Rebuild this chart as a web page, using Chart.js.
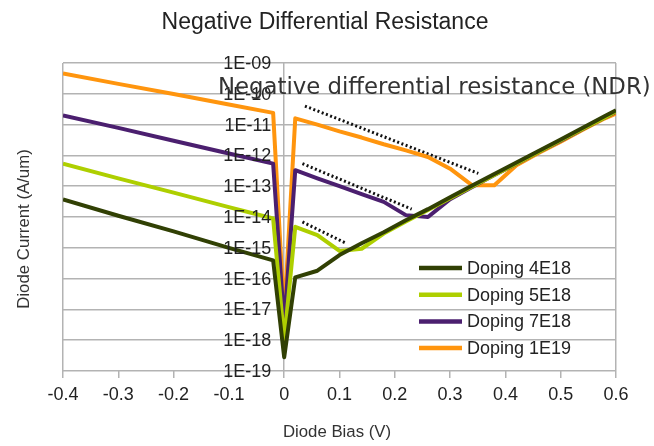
<!DOCTYPE html>
<html>
<head>
<meta charset="utf-8">
<script src="https://cdn.jsdelivr.net/npm/chart.js@4.4.1/dist/chart.umd.min.js"></script>
<style>
  body { margin: 0; background: #fff; }
</style>
</head>
<body>
<canvas id="myChart" width="654" height="446"></canvas>
<script>
// diode bias (V)
const bias = [-0.4, -0.3, -0.2, -0.1, -0.02, 0, 0.02, 0.06, 0.10, 0.14, 0.18, 0.22, 0.26, 0.30, 0.34, 0.38, 0.42, 0.46, 0.50, 0.54, 0.58, 0.60];

// diode current (A/um)
const doping4E18 = [3.7e-14, 1.1e-14, 3.4e-15, 1.0e-15, 3.9e-16, 2.8e-19, 1.1e-16, 1.8e-16, 5.8e-16, 1.4e-15, 3.2e-15, 7.8e-15, 1.8e-14, 4.4e-14, 1.05e-13, 2.5e-13, 5.9e-13, 1.4e-12, 3.3e-12, 7.9e-12, 1.9e-11, 2.9e-11];
const doping5E18 = [5.4e-13, 1.8e-13, 6.2e-14, 2.1e-14, 8.9e-15, 1.0e-18, 4.8e-15, 2.6e-15, 7.9e-16, 9.3e-16, 2.9e-15, 7.2e-15, 1.7e-14, 4.1e-14, 9.8e-14, 2.3e-13, 5.5e-13, 1.3e-12, 3.1e-12, 7.4e-12, 1.7e-11, 2.7e-11];
const doping7E18 = [2.0e-11, 7.8e-12, 3.0e-12, 1.15e-12, 5.4e-13, 3.2e-18, 3.3e-13, 1.8e-13, 1.0e-13, 5.5e-14, 3.1e-14, 1.15e-14, 1.0e-14, 3.8e-14, 9.5e-14, 2.3e-13, 5.4e-13, 1.3e-12, 3.0e-12, 7.2e-12, 1.7e-11, 2.6e-11];
const doping1E19 = [4.6e-10, 2.1e-10, 9.8e-11, 4.5e-11, 2.4e-11, 6.3e-18, 1.6e-11, 1.0e-11, 6.0e-12, 3.8e-12, 2.3e-12, 1.45e-12, 8.9e-13, 3.7e-13, 1.07e-13, 1.07e-13, 4.8e-13, 1.2e-12, 2.8e-12, 6.8e-12, 1.6e-11, 2.3e-11];

const seriesNames = ['Doping 4E18', 'Doping 5E18', 'Doping 7E18', 'Doping 1E19'];
const seriesValues = [doping4E18, doping5E18, doping7E18, doping1E19];
const seriesColors = ['#314004', '#aecf00', '#4b1f6f', '#ff950e'];

// dotted NDR guide lines [x, y]
const ndrGuide1E19 = [[0.0375, 4.0e-11], [0.351, 2.6e-13]];
const ndrGuide7E18 = [[0.033, 5.4e-13], [0.2305, 1.8e-14]];
const ndrGuide5E18 = [[0.033, 6.9e-15], [0.112, 1.4e-15]];

const xTicks = [-0.4, -0.3, -0.2, -0.1, 0, 0.1, 0.2, 0.3, 0.4, 0.5, 0.6];
const yDecades = [1e-19, 1e-18, 1e-17, 1e-16, 1e-15, 1e-14, 1e-13, 1e-12, 1e-11, 1e-10, 1e-9];

Chart.defaults.font.family = "'Liberation Sans', Arial, sans-serif";
Chart.defaults.color = '#222';

const gridGray = '#b3b3b3';

function decadeLabel(v) {
    const e = Math.round(Math.log10(v));
    return '1E-' + String(-e).padStart(2, '0');
}

const datasets = seriesValues.map((vals, i) => ({
    label: seriesNames[i],
    data: bias.map((b, j) => ({x: b, y: vals[j]})),
    borderColor: seriesColors[i],
    backgroundColor: seriesColors[i],
    borderWidth: 4,
    borderJoinStyle: 'round',
    pointRadius: 0,
    tension: 0,
    fill: false,
}));

[ndrGuide1E19, ndrGuide7E18, ndrGuide5E18].forEach(g => {
    datasets.push({
        label: '',
        data: g.map(p => ({x: p[0], y: p[1]})),
        borderColor: '#111',
        borderWidth: 3,
        borderDash: [2, 2.5],
        pointRadius: 0,
        fill: false,
    });
});

const decor = {
    id: 'decor',
    afterDraw(chart) {
        const c = chart.ctx;
        const xs = chart.scales.x, ys = chart.scales.y;
        c.save();

        // y tick labels, sitting left of the x = 0 line
        c.fillStyle = '#222';
        c.font = "18px 'Liberation Sans', Arial, sans-serif";
        c.textAlign = 'right';
        c.textBaseline = 'middle';
        const x0 = xs.getPixelForValue(0);
        yDecades.forEach(v => {
            c.fillText(decadeLabel(v), x0 - 13, ys.getPixelForValue(v) + 1);
        });

        // title
        c.fillStyle = '#222';
        c.font = "23px 'Liberation Sans', Arial, sans-serif";
        c.textAlign = 'center';
        c.textBaseline = 'alphabetic';
        c.fillText('Negative Differential Resistance', 325, 29);

        // axis titles
        c.fillStyle = '#333';
        c.font = "16.8px 'Liberation Sans', Arial, sans-serif";
        c.fillText('Diode Bias (V)', 337, 437);
        c.save();
        c.translate(29, 229);
        c.rotate(-Math.PI / 2);
        c.fillText('Diode Current (A/um)', 0, 0);
        c.restore();

        // legend
        c.font = "18px 'Liberation Sans', Arial, sans-serif";
        c.textAlign = 'left';
        c.textBaseline = 'middle';
        seriesNames.forEach((name, i) => {
            const y = 268 + i * 26.7;
            c.strokeStyle = seriesColors[i];
            c.lineWidth = 4.5;
            c.beginPath();
            c.moveTo(419, y);
            c.lineTo(462, y);
            c.stroke();
            c.fillStyle = '#222';
            c.fillText(name, 467, y + 1);
        });

        // NDR annotation
        c.fillStyle = '#333';
        c.font = "22.8px 'DejaVu Sans', sans-serif";
        c.textBaseline = 'alphabetic';
        c.fillText('Negative differential resistance (NDR)', 218, 94);
        c.restore();
    }
};

const myChart = new Chart(document.getElementById('myChart').getContext('2d'), {
    type: 'line',
    data: { datasets: datasets },
    options: {
        responsive: false,
        animation: false,
        layout: { padding: { left: 63, right: 38, top: 63, bottom: 0 } },
        plugins: {
            legend: { display: false },
            title: { display: false },
            tooltip: { enabled: false },
        },
        scales: {
            x: {
                type: 'linear',
                min: -0.4,
                max: 0.6,
                afterBuildTicks: (scale) => { scale.ticks = xTicks.map(v => ({value: v})); },
                afterFit: (scale) => { scale.height = 75; },
                grid: {
                    color: (ctx) => {
                        const v = ctx.tick ? ctx.tick.value : null;
                        return (v === -0.4 || v === 0 || v === 0.6) ? gridGray : 'rgba(0,0,0,0)';
                    },
                    tickColor: gridGray,
                    tickLength: 7,
                    lineWidth: 1.5,
                },
                border: { display: false },
                ticks: {
                    padding: 6,
                    font: { size: 18 },
                    color: '#222',
                    callback: (v) => String(Math.round(v * 10) / 10),
                },
            },
            y: {
                type: 'logarithmic',
                position: { x: 0 },
                min: 1e-19,
                max: 1e-9,
                afterBuildTicks: (scale) => { scale.ticks = yDecades.map(v => ({value: v})); },
                grid: {
                    color: gridGray,
                    lineWidth: 1.5,
                    drawTicks: false,
                },
                border: { display: false },
                ticks: { display: false },
            },
        },
    },
    plugins: [decor],
});
</script>
</body>
</html>
